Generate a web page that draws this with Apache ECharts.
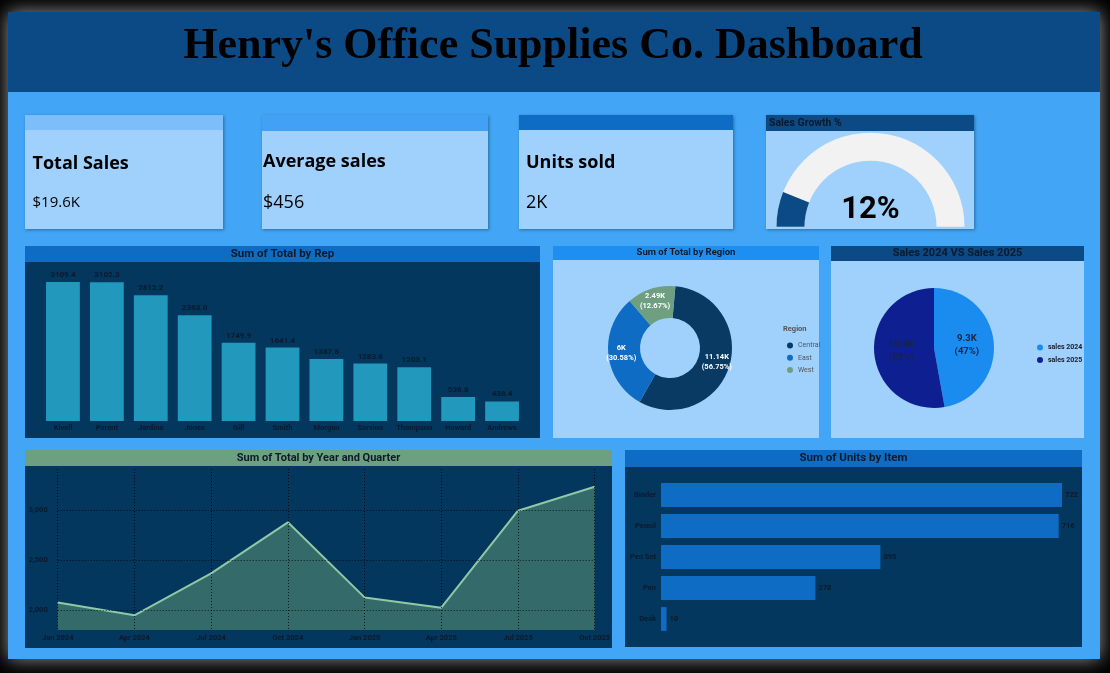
<!DOCTYPE html>
<html>
<head>
<meta charset="utf-8">
<title>Henry's Office Supplies Co. Dashboard</title>
<script src="https://cdn.jsdelivr.net/npm/echarts@6/dist/echarts.min.js"></script>
<style>
	html, body { margin: 0; padding: 0; background: #000; }
	#chart { width: 1110px; height: 673px; }
</style>
</head>
<body>
<div id="chart"></div>
<script>
// data
var kpiNames = ['Total Sales', 'Average sales', 'Units sold'];
var kpiValues = ['$19.6K', '$456', '2K'];
var growthPct = 12;

var reps = ['Kivell', 'Parent', 'Jardine', 'Jones', 'Gill', 'Smith', 'Morgan', 'Sorvino', 'Thompson', 'Howard', 'Andrews'];
var repTotals = [3109.4, 3102.3, 2812.2, 2363.0, 1749.9, 1641.4, 1387.8, 1283.6, 1203.1, 536.8, 438.4];

var regions = ['Central', 'East', 'West'];
var regionTotals = [11139, 6002, 2486];

var years = ['sales 2024', 'sales 2025'];
var yearTotals = [9266, 10375];

var quarters = ['Jan 2024', 'Apr 2024', 'Jul 2024', 'Oct 2024', 'Jan 2025', 'Apr 2025', 'Jul 2025', 'Oct 2025'];
var quarterTotals = [2076, 1947, 2366, 2877, 2126, 2023, 2993, 3233];
var quarterTicks = [2000, 2500, 3000];

var items = ['Binder', 'Pencil', 'Pen Set', 'Pen', 'Desk'];
var itemUnits = [722, 716, 395, 278, 10];

var navy = '#03375e';
var light = '#a0d0fc';
var darkText = '#0c1a2c';
var din = 'Roboto';

var elements = [];

function box(x, y, w, h, fill, shadow) {
	var r = { type: 'rect', shape: { x: x, y: y, width: w, height: h }, style: { fill: fill } };
	if (shadow) {
		r.style.shadowBlur = shadow;
		r.style.shadowColor = 'rgba(0,0,0,0.35)';
		r.style.shadowOffsetX = 1;
		r.style.shadowOffsetY = 1;
	}
	elements.push(r);
}

function label(text, x, y, font, fill, align) {
	elements.push({
		type: 'text',
		style: {
			text: text, x: x, y: y, font: font, fill: fill || '#000',
			align: align || 'left', verticalAlign: 'middle',
			textAlign: align || 'left', textVerticalAlign: 'middle'
		}
	});
}

// frame + header
elements.push({
	type: 'rect', shape: { x: 8, y: 12, width: 1092, height: 647 },
	style: { fill: '#42a5f5', shadowBlur: 18, shadowColor: 'rgba(170,170,170,0.9)' }
});
box(8, 12, 1092, 80, '#0b4a84');
label("Henry's Office Supplies Co. Dashboard", 553, 47, 'bold 44px "Liberation Serif"', '#000', 'center');

// kpi cards
box(25, 115, 198, 114, light, 3);
box(25, 115, 198, 15, '#7dbefa');
box(262, 115, 226, 114, light, 3);
box(262, 115, 226, 16, '#42a1f4');
box(519, 115, 214, 114, light, 3);
box(519, 115, 214, 15, '#0f6cc4');
label(kpiNames[0], 32.5, 164, 'bold 18px "Open Sans"');
label(kpiValues[0], 32.5, 203, '15px "Open Sans"');
label(kpiNames[1], 263, 161.5, 'bold 18px "Open Sans"');
label(kpiValues[1], 263, 203, '18px "Open Sans"');
label(kpiNames[2], 526, 162.5, 'bold 18px "Open Sans"');
label(kpiValues[2], 526, 203, '18px "Open Sans"');

// gauge card
box(766, 115, 208, 114, light, 3);
box(766, 115, 208, 16, '#0b4a84');
label('Sales Growth %', 769, 123.5, 'bold 10.5px ' + din, darkText);

// chart panels
box(25, 246, 515, 192, navy);
box(25, 246, 515, 16, '#0f6cc4');
label('Sum of Total by Rep', 282.5, 254.5, 'bold 11.5px ' + din, darkText, 'center');

box(553, 246, 266, 192, light);
box(553, 246, 266, 14, '#1d8ff2');
label('Sum of Total by Region', 686, 253, 'bold 9.5px ' + din, darkText, 'center');
label('Region', 783, 329.5, 'bold 7.5px ' + din, '#555', 'left');

box(831, 246, 253, 192, light);
box(831, 246, 253, 15, '#0b4a84');
label('Sales 2024 VS Sales 2025', 957.5, 253, 'bold 11px ' + din, darkText, 'center');

box(25, 450, 587, 198, navy);
box(25, 450, 587, 16, '#6e9f80');
label('Sum of Total by Year and Quarter', 318.5, 458, 'bold 11px ' + din, darkText, 'center');

box(625, 450, 457, 197, navy);
box(625, 450, 457, 17, '#0f6cc4');
label('Sum of Units by Item', 853.5, 458.5, 'bold 11.5px ' + din, darkText, 'center');

function shortK(v) {
	return parseFloat((v / 1000).toFixed(2)) + 'K';
}

var smallLabel = { color: darkText, fontSize: 7.5, fontWeight: 'bold', fontFamily: din };
var dotted = { show: true, lineStyle: { color: 'rgba(0,0,0,0.75)', type: [1, 2], width: 1 } };

var myChart = echarts.init(document.getElementById('chart'));
var option = {
	backgroundColor: '#000',
	animation: false,
	textStyle: { fontFamily: din },
	graphic: { z: -1, elements: elements },
	grid: [
		{ left: 41, top: 282, width: 483, height: 139 },
		{ left: 57.7, top: 469, width: 537, height: 161 },
		{ left: 661, top: 479.5, width: 401, height: 155 }
	],
	xAxis: [{
		gridIndex: 0,
		type: 'category',
		data: reps,
		z: 5,
		axisLine: { show: false },
		axisTick: { show: false },
		axisLabel: Object.assign({ margin: 3, interval: 0 }, smallLabel)
	}, {
		gridIndex: 1,
		type: 'category',
		data: quarters,
		boundaryGap: false,
		z: 5,
		axisLine: { show: false },
		axisTick: { show: false },
		axisLabel: Object.assign({ margin: 4, interval: 0 }, smallLabel),
		splitLine: dotted
	}, {
		gridIndex: 2,
		type: 'value',
		min: 0,
		max: function(v) { return v.max; },
		show: false
	}],
	yAxis: [{
		gridIndex: 0,
		type: 'value',
		min: 0,
		max: function(v) { return v.max; },
		show: false
	}, {
		gridIndex: 1,
		type: 'value',
		min: 1800,
		max: 3410,
		z: 5,
		axisLine: { show: false },
		axisTick: { show: false, customValues: quarterTicks },
		axisLabel: Object.assign({
			margin: 10,
			customValues: quarterTicks,
			formatter: function(v) { return v.toLocaleString('en-US'); }
		}, smallLabel),
		splitLine: dotted
	}, {
		gridIndex: 2,
		type: 'category',
		data: items,
		inverse: true,
		z: 5,
		axisLine: { show: false },
		axisTick: { show: false },
		axisLabel: Object.assign({ margin: 5 }, smallLabel)
	}],
	legend: [{
		data: regions,
		orient: 'vertical',
		left: 782,
		top: 336.5,
		icon: 'circle',
		itemWidth: 6,
		itemHeight: 6,
		itemGap: 4.3,
		textStyle: { fontSize: 7, color: '#555', lineHeight: 8, fontFamily: din }
	}, {
		data: years,
		orient: 'vertical',
		left: 1032,
		top: 338.5,
		icon: 'circle',
		itemWidth: 6,
		itemHeight: 6,
		itemGap: 4.6,
		textStyle: { fontSize: 7, color: '#1a1a2a', fontWeight: 'bold', lineHeight: 8, fontFamily: din }
	}],
	series: [{
		name: 'Sum of Total by Rep',
		type: 'bar',
		xAxisIndex: 0,
		yAxisIndex: 0,
		barWidth: '77%',
		data: repTotals,
		itemStyle: { color: '#2198bc' },
		label: {
			show: true,
			position: 'top',
			distance: 3,
			color: darkText,
			fontSize: 8,
			fontWeight: 'bold',
			formatter: function(p) { return p.value.toFixed(1); }
		}
	}, {
		name: 'Sum of Total',
		type: 'line',
		xAxisIndex: 1,
		yAxisIndex: 1,
		data: quarterTotals,
		showSymbol: false,
		lineStyle: { color: '#8fc9a6', width: 2 },
		itemStyle: { color: '#8fc9a6' },
		areaStyle: { color: '#356a6b', opacity: 1 }
	}, {
		name: 'Sum of Units',
		type: 'bar',
		xAxisIndex: 2,
		yAxisIndex: 2,
		barWidth: '77%',
		data: itemUnits,
		itemStyle: { color: '#0f6cc4' },
		label: { show: true, position: 'right', distance: 3, color: darkText, fontSize: 7.5, fontWeight: 'bold' }
	}, {
		name: 'Region',
		type: 'pie',
		center: [670, 348],
		radius: [30, 62],
		startAngle: 85,
		percentPrecision: 2,
		avoidLabelOverlap: false,
		label: {
			show: true,
			position: 'inside',
			color: '#fff',
			fontSize: 7.5,
			fontWeight: 'bold',
			lineHeight: 10,
			formatter: function(p) { return shortK(p.value) + '\n(' + p.percent.toFixed(2) + '%)'; }
		},
		labelLine: { show: false },
		emphasis: { disabled: true },
		data: regions.map(function(r, i) {
			return { name: r, value: regionTotals[i], itemStyle: { color: ['#083a63', '#0f6cc4', '#6e9f80'][i] } };
		})
	}, {
		name: 'Sales',
		type: 'pie',
		center: [934, 348],
		radius: 60,
		startAngle: 90,
		avoidLabelOverlap: false,
		label: {
			show: true,
			position: 'inside',
			color: '#1c2340',
			fontSize: 9.5,
			fontWeight: 'bold',
			lineHeight: 12.6,
			formatter: function(p) { return (p.value / 1000).toFixed(1) + 'K\n(' + Math.round(p.percent) + '%)'; }
		},
		labelLine: { show: false },
		emphasis: { disabled: true },
		data: years.map(function(y, i) {
			return { name: y, value: yearTotals[i], itemStyle: { color: ['#1a8cf0', '#0e2091'][i] } };
		})
	}, {
		name: 'Sales Growth %',
		type: 'gauge',
		center: [870.5, 226.7],
		radius: 94,
		startAngle: 180,
		endAngle: 0,
		min: 0,
		max: 100,
		axisLine: { lineStyle: { width: 28, color: [[1, '#f2f2f2']] } },
		progress: { show: true, width: 28, itemStyle: { color: '#0b4a84' } },
		pointer: { show: false },
		anchor: { show: false },
		axisTick: { show: false },
		splitLine: { show: false },
		axisLabel: { show: false },
		title: { show: false },
		detail: {
			offsetCenter: [0, -16],
			formatter: '{value}%',
			fontSize: 31,
			fontWeight: 'bold',
			fontFamily: din,
			color: '#000'
		},
		data: [{ value: growthPct }]
	}]
};
myChart.setOption(option);
</script>
</body>
</html>
